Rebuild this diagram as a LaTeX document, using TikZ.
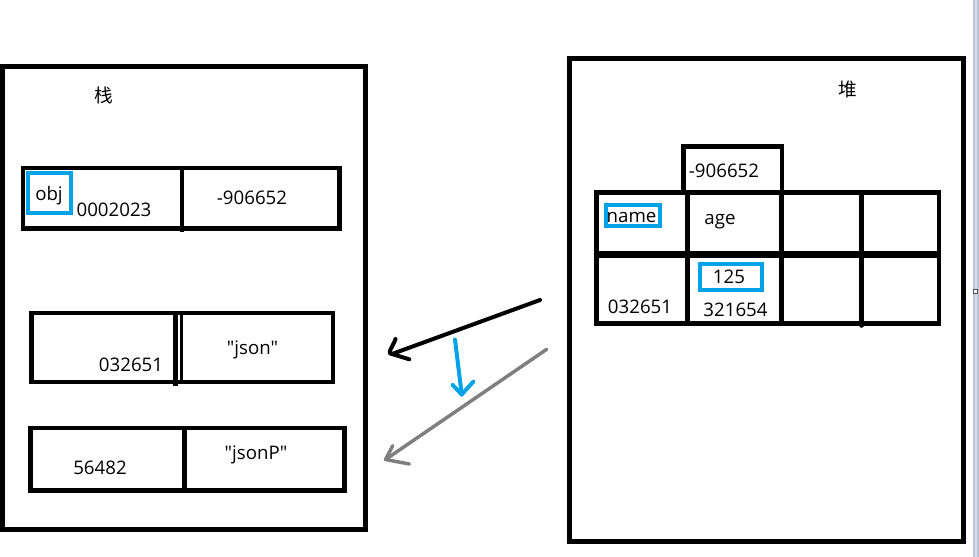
\documentclass[tikz,border=0pt]{standalone}
\usepackage{fontspec}
\setmainfont{Open Sans}
\newfontfamily\qfont{Open Sans}[Ligatures=TeXOff]
\newfontfamily\cjk{Noto Sans CJK SC}
\definecolor{hlblue}{HTML}{00A2E8}
\definecolor{arrgray}{HTML}{7F7F7F}
\definecolor{stripblue}{HTML}{BAC5D8}
\begin{document}
\begin{tikzpicture}[x=0.75pt,y=-0.75pt,
  box/.style={line width=3.75pt},
  cell/.style={line width=3.4pt},
  hl/.style={draw=hlblue,line width=3pt},
  txt/.style={font=\fontsize{14pt}{16pt}\selectfont,inner sep=0pt,anchor=base},
  qtxt/.style={font=\qfont\fontsize{14pt}{16pt}\selectfont,inner sep=0pt,anchor=base},
  cjktxt/.style={font=\cjk\fontsize{14pt}{16pt}\selectfont,inner sep=0pt},
  arr/.style={line cap=round,line join=round}]
\fill[white] (0,0) rectangle (979,557);
\useasboundingbox (0,0) rectangle (979,557);
% right scroll strip
\fill[stripblue] (973,0) rectangle (979,557);
\fill[stripblue!60!white] (975,0) rectangle (977,557);
\draw[black!70,line width=0.75pt,fill=white] (973.6,289.2) rectangle (977.6,293.2);

% ===== stack =====
\draw[box] (2.5,66.5) rectangle (365.5,529.5);
\node[cjktxt] (zhan) at (103.5,95.5) {栈};
% row 1
\draw[cell] (23,168) rectangle (339.5,228.5);
\draw[cell] (182,168) -- (182,232);
\draw[hl] (27.5,172.5) rectangle (71,212.5);
\node[txt] (obj) at (49,200) {obj};
\node[txt] (a1) at (114,216.5) {0002023};
\node[txt] (a2) at (252,204) {-906652};
% row 2
\draw[cell] (31.5,313) rectangle (333,382);
\draw[line width=3.6pt] (175.5,313) -- (175.5,385.5);
\draw[line width=2.6pt] (181.5,313) -- (181.5,382);
\node[txt] (b1) at (131,371) {032651};
\node[qtxt] (b2) at (252.5,354) {"json"};
% row 3
\draw[cell] (30.5,428) rectangle (344.5,490.5);
\draw[cell] (184.5,428) -- (184.5,490.5);
\node[txt] (c1) at (100,474) {56482};
\node[qtxt] (c2) at (256,459.5) {"jsonP"};

% ===== heap =====
\draw[box] (569.5,58.5) rectangle (963,541.5);
\node[cjktxt] (dui) at (847.5,89.5) {堆};
\draw[cell] (683.5,146.5) rectangle (782,192.7);
\node[txt] (h0) at (724,177.3) {-906652};
\draw[cell] (596.5,192.7) rectangle (939,323.5);
\draw[line width=5.2pt] (596.5,254.5) -- (939,254.5);
\draw[cell] (687.5,192.7) -- (687.5,323.5);
\draw[cell] (781.5,192.7) -- (781.5,323.5);
\draw[cell,line cap=round] (861.7,192.7) -- (861.7,325.5);
\draw[hl] (606,205.3) rectangle (659.7,225.7);
\node[txt] (name) at (631.5,222) {name};
\node[txt] (age) at (720,224) {age};
\draw[hl] (700,264) rectangle (762,290);
\node[txt] (v125) at (729,283) {125};
\node[txt] (v321) at (735.5,316.7) {321654};
\node[txt] (v032) at (640,313.3) {032651};

% ===== arrows =====
\coordinate (k0) at (540,300);
\coordinate (k1) at (392,354);
\coordinate (k2) at (395.5,339);
\coordinate (k3) at (409.3,359.3);
\draw[arr,line width=3pt] (k0) -- (k1);
\draw[arr,line width=3pt] (k2) to[out=-105,in=180] (k1) -- (k3);

\coordinate (u0) at (455,339.5);
\coordinate (u1) at (461.7,394.5);
\coordinate (u2) at (452.7,385);
\coordinate (u3) at (473.3,381.7);
\draw[arr,hlblue,line width=3pt] (u0) -- (u1);
\draw[arr,hlblue,line width=3pt] (u2) -- (u1) -- (u3);

\coordinate (g0) at (546.7,349.3);
\coordinate (g1) at (385.5,459.5);
\coordinate (g2) at (392.7,445.7);
\coordinate (g3) at (409.3,464);
\draw[arr,arrgray,line width=2.6pt] (g0) -- (g1);
\draw[arr,arrgray,line width=2.6pt] (g2) -- (g1) -- (g3);
\end{tikzpicture}
\end{document}
